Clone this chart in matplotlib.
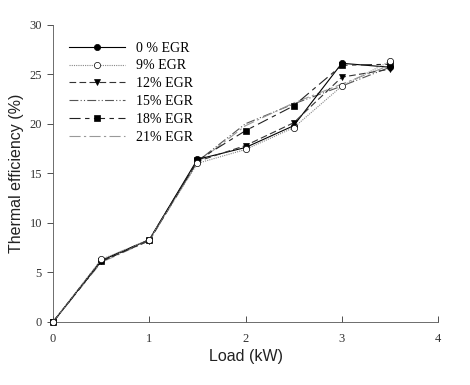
import matplotlib
matplotlib.use('Agg')
import matplotlib.pyplot as plt

load = [0, 0.5, 1, 1.5, 2, 2.5, 3, 3.5]
egr_labels = ['0 % EGR', '9% EGR', '12% EGR', '15% EGR', '18% EGR', '21% EGR']
eff_0 = [0, 6.2, 8.3, 16.4, 17.6, 19.8, 26.1, 25.7]
eff_9 = [0, 6.3, 8.3, 16.0, 17.4, 19.6, 23.8, 26.3]
eff_12 = [0, 6.1, 8.2, 16.2, 17.8, 20.1, 24.7, 25.5]
eff_15 = [0, 6.2, 8.3, 16.2, 20.0, 22.0, 23.8, 25.7]
eff_18 = [0, 6.1, 8.3, 16.3, 19.3, 21.8, 25.9, 26.0]
eff_21 = [0, 6.0, 8.2, 16.1, 19.8, 22.1, 24.0, 25.9]

serif = 'Liberation Serif'
sans = 'Liberation Sans'

fig = plt.figure(figsize=(4.7, 3.85), dpi=100)
ax = fig.add_axes([0.113, 0.164, 0.819, 0.772])

styles = [
    dict(color='black', ls='-', marker='o', mfc='black', zorder=3),
    dict(color='#888888', ls=(0, (1, 1)), marker='o', mfc='white', zorder=5),
    dict(color='#333333', ls=(0, (6, 3)), marker='v', mfc='black', zorder=3),
    dict(color='#555555', ls=(0, (8, 2, 1, 2, 1, 2)), marker=None, zorder=2),
    dict(color='#222222', ls=(0, (10, 4, 4, 4)), marker='s', mfc='black', zorder=4),
    dict(color='#999999', ls=(0, (10, 3, 2, 3)), marker=None, zorder=2),
]
series = [eff_0, eff_9, eff_12, eff_15, eff_18, eff_21]

for y, lab, st in zip(series, egr_labels, styles):
    ax.plot(load, y, label=lab, lw=0.8, ms=4.5, mec='black', mew=0.5, clip_on=False, **st)

ax.set_xlim(0, 4)
ax.set_ylim(0, 30)
ax.set_xticks([0, 1, 2, 3, 4])
ax.set_yticks([0, 5, 10, 15, 20, 25, 30])
ax.tick_params(axis='x', direction='in', length=4, width=0.6, pad=8, labelsize=9, colors='#333333')
ax.tick_params(axis='y', direction='out', length=4, width=0.6, pad=4, labelsize=9, colors='#333333')
for t in ax.get_xticklabels() + ax.get_yticklabels():
    t.set_fontfamily(serif)
ax.spines['top'].set_visible(False)
ax.spines['right'].set_visible(False)
for s in ['left', 'bottom']:
    ax.spines[s].set_linewidth(0.6)
    ax.spines[s].set_color('#555555')

ax.set_xlabel('Load (kW)', fontsize=11.5, fontfamily=sans, color='#222222', labelpad=3)
ax.set_ylabel('Thermal efficiency (%)', fontsize=11.5, fontfamily=sans, color='#222222', labelpad=4)

leg = ax.legend(loc='upper left', frameon=False, handlelength=4.0, labelspacing=0.35,
                prop={'family': serif, 'size': 10}, bbox_to_anchor=(0.01, 0.985))

fig.savefig('out.png', dpi=100)
